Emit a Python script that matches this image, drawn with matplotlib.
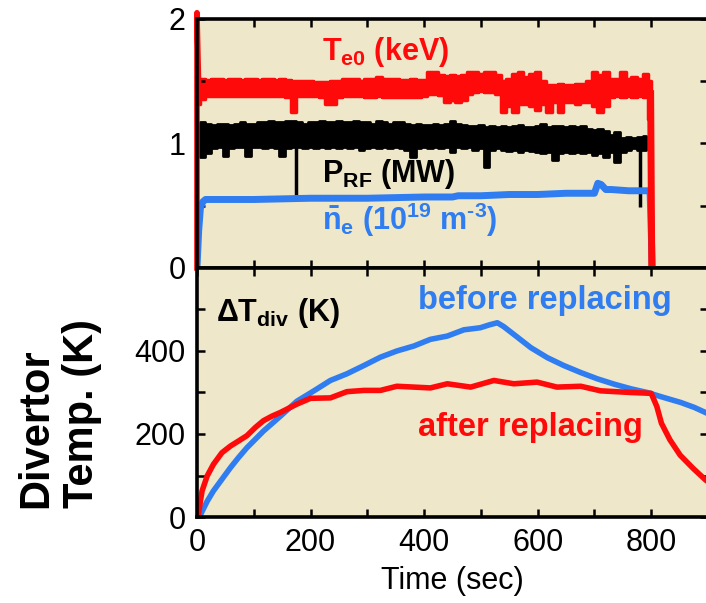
import numpy as np
import matplotlib
matplotlib.use("Agg")
import matplotlib.pyplot as plt

plt.rcParams['font.family'] = ['Liberation Sans', 'DejaVu Sans']
plt.rcParams['font.size'] = 22
plt.rcParams['mathtext.fontset'] = 'custom'
plt.rcParams['mathtext.rm'] = 'Liberation Sans:bold'
plt.rcParams['mathtext.bf'] = 'Liberation Sans:bold'
plt.rcParams['mathtext.it'] = 'Liberation Sans:italic'
plt.rcParams['mathtext.sf'] = 'Liberation Sans'

RED = '#FF0A0A'
BLUE = '#2F7DF0'
BG = '#EEE7C9'

# ---- upper panel: plasma waveforms, sampled every 10 s ----
t10 = np.arange(0, 801, 10)

# central electron temperature band (keV)
te_hi = [1.52, 1.52, 1.51, 1.52, 1.52, 1.51, 1.52, 1.52, 1.51, 1.52,
         1.52, 1.51, 1.52, 1.52, 1.51, 1.52, 1.51, 1.50, 1.50, 1.50,
         1.50, 1.49, 1.49, 1.49, 1.50, 1.50, 1.52, 1.52, 1.52, 1.50,
         1.52, 1.52, 1.53, 1.52, 1.52, 1.52, 1.51, 1.51, 1.52, 1.51,
         1.51, 1.57, 1.57, 1.55, 1.54, 1.55, 1.54, 1.55, 1.57, 1.57,
         1.56, 1.57, 1.57, 1.55, 1.50, 1.52, 1.56, 1.57, 1.53, 1.56,
         1.57, 1.50, 1.47, 1.47, 1.48, 1.47, 1.47, 1.48, 1.48, 1.50,
         1.57, 1.55, 1.57, 1.52, 1.52, 1.57, 1.52, 1.53, 1.52, 1.56,
         1.50]
te_lo = [1.32, 1.36, 1.38, 1.38, 1.38, 1.38, 1.38, 1.38, 1.38, 1.38,
         1.38, 1.38, 1.38, 1.38, 1.38, 1.38, 1.37, 1.25, 1.38, 1.38,
         1.38, 1.38, 1.37, 1.32, 1.32, 1.37, 1.38, 1.38, 1.38, 1.38,
         1.37, 1.37, 1.38, 1.37, 1.37, 1.37, 1.37, 1.37, 1.37, 1.37,
         1.38, 1.40, 1.40, 1.39, 1.33, 1.35, 1.33, 1.35, 1.40, 1.41,
         1.42, 1.41, 1.41, 1.40, 1.25, 1.30, 1.25, 1.32, 1.32, 1.30,
         1.27, 1.32, 1.25, 1.33, 1.25, 1.33, 1.33, 1.32, 1.33, 1.33,
         1.30, 1.25, 1.30, 1.37, 1.38, 1.37, 1.38, 1.37, 1.38, 1.37,
         1.20]
te_rise_t = [0, 0, 3]
te_rise_v = [0.0, 2.05, 1.45]
te_fall_t = [799, 801]
te_fall_v = [1.40, 0.0]

# RF power band (MW)
t_rf = np.arange(0, 791, 10)
prf_hi = [1.15, 1.17, 1.16, 1.15, 1.16, 1.16, 1.15, 1.16, 1.17, 1.16,
          1.16, 1.17, 1.17, 1.18, 1.17, 1.17, 1.18, 1.18, 1.17, 1.16,
          1.17, 1.17, 1.18, 1.17, 1.17, 1.18, 1.17, 1.17, 1.18, 1.17,
          1.17, 1.16, 1.18, 1.17, 1.16, 1.17, 1.17, 1.16, 1.15, 1.16,
          1.15, 1.15, 1.16, 1.15, 1.16, 1.18, 1.16, 1.15, 1.14, 1.14,
          1.15, 1.13, 1.14, 1.13, 1.14, 1.13, 1.14, 1.15, 1.13, 1.13,
          1.14, 1.16, 1.13, 1.14, 1.14, 1.13, 1.14, 1.13, 1.14, 1.12,
          1.11, 1.12, 1.10, 1.07, 1.09, 1.04, 1.05, 1.04, 1.05, 1.06]
prf_lo = [0.90, 0.89, 0.92, 0.96, 0.97, 0.90, 0.96, 0.97, 0.97, 0.90,
          0.97, 0.97, 0.96, 0.97, 0.96, 0.90, 0.96, 0.97, 0.97, 0.96,
          0.97, 0.96, 0.97, 0.96, 0.97, 0.96, 0.97, 0.96, 0.97, 0.95,
          0.96, 0.97, 0.96, 0.97, 0.96, 0.97, 0.96, 0.95, 0.89, 0.96,
          0.97, 0.96, 0.97, 0.96, 0.97, 0.93, 0.97, 0.96, 0.97, 0.95,
          0.96, 0.81, 0.95, 0.96, 0.95, 0.94, 0.95, 0.93, 0.95, 0.94,
          0.93, 0.92, 0.93, 0.87, 0.92, 0.93, 0.92, 0.93, 0.92, 0.93,
          0.91, 0.92, 0.89, 0.93, 0.85, 0.93, 0.95, 0.96, 0.95, 0.95]
prf_spike_t = [175, 781]
prf_spike_v = [0.59, 0.49]
prf_fall_t = [797, 802]
prf_fall_v = [1.05, 0.0]

# line-averaged density (1e19 m^-3)
ne_t = [0, 3, 6, 10, 15, 30, 100, 200, 300, 400, 450, 460, 500, 550,
        600, 650, 700, 706, 712, 720, 730, 760, 790, 798, 800, 802]
ne_v = [0.0, 0.30, 0.48, 0.53, 0.55, 0.55, 0.55, 0.56, 0.56, 0.57, 0.57,
        0.58, 0.58, 0.59, 0.59, 0.60, 0.60, 0.68, 0.67, 0.63, 0.63, 0.62,
        0.62, 0.62, 0.30, 0.0]

# ---- lower panel: divertor temperature rise (K) ----
before_t = [0, 6, 18, 29, 44, 59, 73, 88, 117, 147, 176, 206, 235, 264,
            294, 323, 352, 382, 411, 441, 470, 499, 515, 529, 540, 558,
            588, 617, 646, 676, 705, 735, 764, 793, 822, 852, 876, 900]
before_v = [0, 5, 38, 63, 91, 119, 143, 167, 207, 243, 279, 304, 329, 345,
            365, 385, 400, 412, 428, 436, 451, 456, 463, 468, 459, 440,
            408, 384, 365, 348, 333, 320, 309, 300, 288, 276, 264, 249]
after_t = [0, 3, 6, 9, 18, 29, 44, 59, 73, 88, 103, 117, 132, 147, 176,
           200, 235, 264, 294, 323, 352, 382, 411, 441, 482, 523, 558,
           599, 634, 676, 711, 764, 800, 810, 818, 833, 851, 874, 896, 900]
after_v = [0, 10, 38, 63, 99, 127, 155, 171, 183, 196, 216, 232, 243, 252,
           272, 286, 287, 302, 305, 305, 315, 313, 311, 321, 313, 329, 321,
           325, 313, 315, 304, 300, 298, 266, 226, 186, 149, 117, 89, 85]

fig = plt.figure(figsize=(7.06, 6.03), dpi=100)
ax1 = fig.add_axes([0.279, 0.5556, 0.7238, 0.413])
ax2 = fig.add_axes([0.279, 0.1426, 0.7238, 0.413])

for ax in (ax1, ax2):
    ax.set_facecolor(BG)
    for sp in ax.spines.values():
        sp.set_linewidth(2.6)
    ax.set_xlim(0, 900)
    ax.set_xticks([0, 200, 400, 600, 800])
    ax.set_xticks([100, 300, 500, 700, 900], minor=True)
    ax.tick_params(which='both', direction='in', top=True, right=True,
                   length=6, width=1.8, labelsize=22, pad=8)

# upper panel
ax1.fill_between(t_rf, prf_lo, prf_hi, step='mid', color='black', lw=2)
ax1.vlines(prf_spike_t, prf_spike_v, 1.0, color='black', lw=2.5)
ax1.plot(prf_fall_t, prf_fall_v, color='black', lw=2.5)
ax1.plot(ne_t, ne_v, color=BLUE, lw=5, solid_capstyle='butt')
ax1.fill_between(t10, te_lo, te_hi, step='mid', color=RED, lw=2.5)
ax1.plot(te_rise_t, te_rise_v, color=RED, lw=4, clip_on=False)
ax1.plot(te_fall_t, te_fall_v, color=RED, lw=5)

ax1.set_ylim(0, 2)
ax1.set_yticks([0, 1, 2])
ax1.set_yticks([0.5, 1.5], minor=True)
ax1.tick_params(labelbottom=False)

ax1.text(220, 1.67, r'$\mathbf{T_{e0}}$ (keV)', color=RED, fontsize=22,
         fontweight='bold', ha='left', va='baseline')
ax1.text(220, 0.69, r'$\mathbf{P_{RF}}$ (MW)', color='black', fontsize=22,
         fontweight='bold', ha='left', va='baseline')
ax1.text(220, 0.305, r'$\mathbf{\bar{n}_e}$ (10$^{\mathbf{19}}$ m$^{\text{-3}}$)',
         color=BLUE, fontsize=22, fontweight='bold', ha='left', va='baseline')

# lower panel
ax2.plot(before_t, before_v, color=BLUE, lw=4, solid_joinstyle='round')
ax2.plot(after_t, after_v, color=RED, lw=4, solid_joinstyle='round')
ax2.set_ylim(0, 600)
ax2.set_yticks([0, 200, 400])
ax2.set_yticks([100, 300, 500], minor=True)
ax2.set_xlabel('Time (sec)', fontsize=22, labelpad=6)

ax2.text(33, 472, r'$\mathbf{\Delta T_{div}}$ (K)', color='black', fontsize=22,
         fontweight='bold', ha='left', va='baseline')
ax2.text(389, 501, 'before replacing', color=BLUE, fontsize=23.5,
         fontweight='bold', ha='left', va='baseline')
ax2.text(389, 195, 'after replacing', color=RED, fontsize=23.5,
         fontweight='bold', ha='left', va='baseline')

fig.text(0.0836, 0.315, 'Divertor\nTemp. (K)', rotation=90, fontsize=30,
         fontweight='bold', ha='center', va='center', multialignment='left')

fig.savefig('out.png', dpi=100)
